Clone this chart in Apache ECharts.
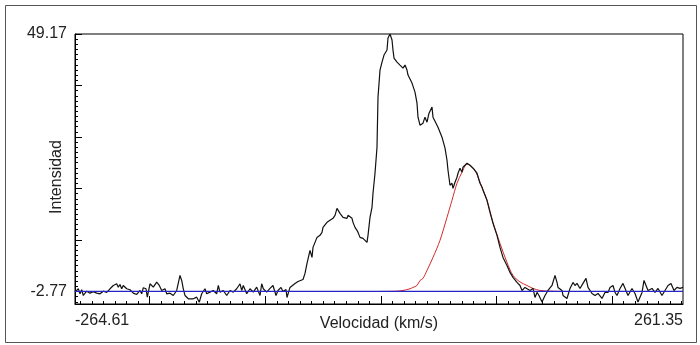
<!DOCTYPE html>
<html>
<head>
<meta charset="utf-8">
<script src="https://cdn.jsdelivr.net/npm/echarts@6/dist/echarts.min.js"></script>
<style>
  html, body { margin: 0; padding: 0; background: #fff; }
  #chart { width: 700px; height: 345px; }
</style>
</head>
<body>
<div id="chart"></div>
<script>
// ejes
var xMin = -264.61, xMax = 261.35;
var yMin = -5.3, yMax = 49.17;
var xTickLabels = [-264.61, 261.35];
var yTickLabels = [-2.77, 49.17];
var xMajorTicks = [-200, -100, 0, 100, 200];
var yMajorTicks = [-2.77, 7.62, 18.01, 28.39, 38.78, 49.17];

// espectro observado [velocidad, intensidad]
var espectro = [
  [-264.61, -2.91], [-261.75, -2.23], [-260.28, -3.24], [-258.81, -2.43], [-257.43, -3.58],
  [-254.49, -2.71], [-251.63, -3.11], [-248.78, -2.83], [-245.84, -3.11], [-242.98, -3.24],
  [-240.13, -2.71], [-237.19, -2.97], [-234.33, -2.23], [-231.48, -1.56], [-228.54, -1.22],
  [-227.15, -1.90], [-225.68, -1.36], [-224.21, -2.23], [-222.83, -1.56], [-219.89, -2.23],
  [-217.03, -2.43], [-214.18, -3.11], [-211.23, -3.38], [-208.38, -2.57], [-206.91, -3.24],
  [-205.53, -2.02], [-203.19, -2.23], [-202.07, -3.92], [-199.73, -1.22], [-196.87, -1.90],
  [-193.93, -0.89], [-191.68, -1.56], [-189.61, -2.57], [-186.75, -2.23], [-185.28, -3.24],
  [-182.43, -3.11], [-179.57, -3.58], [-176.63, -2.57], [-173.78, 0.46], [-172.31, -0.55],
  [-170.92, -2.23], [-169.45, -3.58], [-166.60, -4.25], [-162.27, -4.25], [-159.33, -3.92],
  [-157.08, -4.93], [-155.01, -3.24], [-152.15, -2.23], [-150.68, -3.24], [-147.83, -2.91],
  [-144.97, -2.57], [-142.03, -3.24], [-140.64, -1.56], [-139.17, -2.91], [-136.32, -2.57],
  [-133.38, -3.58], [-130.52, -2.57], [-127.67, -2.91], [-124.73, -2.23], [-121.87, -1.22],
  [-120.40, -2.57], [-119.02, -1.56], [-116.08, -3.24], [-113.22, -2.23], [-110.37, -2.91],
  [-107.43, -1.90], [-104.57, -3.58], [-103.10, -1.22], [-101.72, -2.23], [-98.78, -2.91],
  [-95.92, -2.16], [-93.33, -1.56], [-90.73, -3.58], [-89.00, -2.57], [-86.41, -1.96],
  [-84.68, -2.77], [-82.08, -2.37], [-81.22, -3.98], [-78.62, -1.96], [-76.89, -1.56],
  [-74.29, -1.15], [-71.70, -0.75], [-69.97, -0.55], [-67.37, -0.35], [-65.64, 0.87],
  [-63.91, 2.89], [-61.32, 5.51], [-59.59, 4.10], [-58.72, 6.12], [-55.26, 8.14],
  [-54.40, 7.94], [-52.67, 8.55], [-50.94, 9.15], [-50.07, 10.16], [-46.61, 11.17],
  [-44.02, 11.58], [-41.42, 11.98], [-39.69, 12.59], [-37.96, 14.00], [-35.37, 12.99],
  [-32.77, 12.18], [-29.31, 11.98], [-28.45, 12.59], [-26.72, 12.99], [-24.99, 11.98],
  [-24.12, 11.17], [-22.39, 10.16], [-20.66, 9.56], [-19.79, 9.15], [-18.06, 8.14],
  [-15.47, 7.94], [-13.74, 7.54], [-12.01, 7.13], [-11.14, 8.55], [-9.41, 12.18],
  [-7.68, 14.21], [-6.82, 17.03], [-5.09, 21.08], [-3.36, 26.33], [-2.49, 36.44],
  [-0.76, 41.89], [0.97, 43.51], [2.70, 44.92], [4.43, 44.92], [5.29, 45.93],
  [6.16, 48.36], [7.89, 49.17], [9.62, 47.96], [10.48, 45.93], [11.35, 44.32],
  [13.94, 43.51], [16.54, 42.90], [19.13, 42.30], [20.86, 42.90], [22.59, 41.89],
  [23.46, 40.88], [26.92, 39.27], [29.51, 37.45], [31.24, 35.22], [32.11, 32.39],
  [33.84, 30.78], [36.43, 31.18], [38.16, 32.39], [39.89, 31.38], [41.63, 33.20],
  [44.22, 34.42], [45.09, 32.39], [46.82, 32.19], [49.41, 30.37], [52.87, 28.35],
  [55.47, 26.13], [57.20, 23.70], [58.06, 21.68], [59.79, 18.65], [61.52, 19.06],
  [62.39, 18.05], [64.12, 19.26], [65.85, 20.27], [66.71, 21.08], [68.44, 22.09],
  [70.17, 21.28], [71.04, 22.29], [72.77, 22.69], [74.50, 23.10], [75.36, 23.10],
  [77.09, 22.69], [79.69, 22.09], [83.15, 21.08], [85.74, 19.06], [87.47, 18.25],
  [88.34, 17.64], [91.80, 15.62], [94.39, 13.19], [96.99, 10.97], [100.45, 8.55],
  [103.05, 6.12], [105.64, 4.10], [109.10, 2.48], [111.70, 1.07], [114.29, 0.06],
  [117.75, -0.95], [120.35, -1.56], [122.08, -2.57], [124.67, -1.96], [126.40, -2.16],
  [129.00, -2.57], [131.59, -2.16], [133.32, -3.98], [135.05, -2.97], [136.78, -3.58],
  [139.38, -4.90], [141.97, -3.58], [144.57, -2.57], [148.03, -1.56], [150.62, 0.46],
  [152.35, -0.95], [153.22, -1.96], [156.68, -2.57], [157.54, -3.58], [161.00, -4.19],
  [163.60, -2.16], [166.20, -0.95], [167.93, -1.56], [169.66, -1.15], [172.25, -2.16],
  [174.85, -1.15], [177.44, -0.14], [179.17, -1.96], [182.63, -3.18], [185.23, -3.58],
  [187.82, -3.18], [191.28, -4.19], [193.88, -2.97], [196.47, -2.97], [198.20, -1.96],
  [200.80, -1.56], [202.53, -2.97], [204.26, -3.58], [206.85, -2.16], [209.45, -1.15],
  [211.18, -0.95], [213.77, -3.58], [217.23, -2.16], [219.83, -3.18], [222.42, -4.90],
  [225.89, -2.97], [227.62, -0.55], [229.35, -1.56], [231.08, -2.57], [234.54, -2.16],
  [237.13, -2.97], [239.73, -2.16], [243.19, -3.58], [245.78, -2.57], [248.38, -1.56],
  [250.97, -1.15], [253.57, -2.57], [256.16, -1.96], [258.76, -2.16], [261.35, -1.96]
];

// ajuste (curva roja)
var ajuste = [
  [-0.76, -2.77], [13.94, -2.71], [19.13, -2.57], [25.19, -2.23], [27.78, -1.96],
  [31.24, -1.56], [33.84, -0.55], [36.43, -0.14], [39.89, 1.47], [45.09, 4.10],
  [51.14, 7.54], [57.20, 12.18], [61.52, 15.62], [65.85, 19.06], [70.17, 21.28],
  [74.50, 22.90], [77.09, 22.69], [81.42, 21.68], [85.74, 19.26], [91.80, 15.62],
  [96.99, 11.17], [103.05, 6.93], [109.10, 3.09], [114.29, 0.46], [120.35, -0.85],
  [126.40, -1.56], [131.59, -2.16], [137.65, -2.57], [146.30, -2.71], [160.00, -2.77]
];

// linea de base
var base = [[-264.61, -2.77], [261.35, -2.77]];

// marcas menores
var xMinorTicks = [];
for (var v = -260; v <= 260; v += 10) xMinorTicks.push(v);
var yMinorTicks = [];
var yStep = (yMajorTicks[5] - yMajorTicks[0]) / 50;
for (var k = -2; k <= 50; k++) yMinorTicks.push(+(yMajorTicks[0] + k * yStep).toFixed(3));

var fuente = '"Liberation Sans", Arial, sans-serif';
var texto = { color: '#222', fontSize: 16, fontFamily: fuente };

var chart = echarts.init(document.getElementById('chart'));
chart.setOption({
  animation: false,
  backgroundColor: '#fff',
  graphic: [{
    type: 'rect',
    shape: { x: 5.5, y: 5.5, width: 691, height: 337 },
    style: { fill: 'none', stroke: '#555', lineWidth: 1 },
    silent: true
  }],
  grid: {
    left: 75, right: 17, top: 34, bottom: 41,
    outerBoundsMode: 'none', containLabel: false,
    show: true, borderColor: '#000', borderWidth: 1, backgroundColor: '#fff'
  },
  xAxis: [{
    type: 'value', min: xMin, max: xMax,
    name: 'Velocidad (km/s)', nameLocation: 'middle', nameGap: 12, nameMoveOverlap: false,
    nameTextStyle: texto,
    axisLine: { show: true, onZero: false, lineStyle: { color: '#000', width: 1 } },
    axisTick: { show: true, inside: true, length: 3, customValues: xMinorTicks, lineStyle: { color: '#000' } },
    axisLabel: Object.assign({
      customValues: xTickLabels, margin: 9,
      alignMinLabel: 'left', alignMaxLabel: 'right',
      formatter: function (v) { return v.toFixed(2); }
    }, texto),
    splitLine: { show: false }
  }, {
    type: 'value', min: xMin, max: xMax, position: 'bottom',
    axisLine: { show: false, onZero: false },
    axisTick: { show: true, inside: true, length: 8, customValues: xMajorTicks, lineStyle: { color: '#000' } },
    axisLabel: { show: false },
    splitLine: { show: false }
  }],
  yAxis: [{
    type: 'value', min: yMin, max: yMax,
    name: 'Intensidad', nameLocation: 'middle', nameGap: 10, nameMoveOverlap: false,
    nameTextStyle: Object.assign({ padding: [0, 16, 0, 0] }, texto),
    axisLine: { show: true, onZero: false, lineStyle: { color: '#000', width: 1 } },
    axisTick: { show: true, inside: true, length: 3, customValues: yMinorTicks, lineStyle: { color: '#000' } },
    axisLabel: Object.assign({
      customValues: yTickLabels, margin: 8,
      formatter: function (v) { return v.toFixed(2); }
    }, texto),
    splitLine: { show: false }
  }, {
    type: 'value', min: yMin, max: yMax, position: 'left',
    axisLine: { show: false, onZero: false },
    axisTick: { show: true, inside: true, length: 7, customValues: yMajorTicks, lineStyle: { color: '#000' } },
    axisLabel: { show: false },
    splitLine: { show: false }
  }],
  series: [{
    name: 'Ajuste', type: 'line', data: ajuste, smooth: 0.3,
    showSymbol: false, lineStyle: { color: '#d42a2a', width: 1 }, z: 2
  }, {
    name: 'Espectro', type: 'line', data: espectro,
    showSymbol: false, lineStyle: { color: '#111', width: 1.2 }, z: 3
  }, {
    name: 'Base', type: 'line', data: base,
    showSymbol: false, color: '#2424c8', itemStyle: { color: '#2424c8' },
    lineStyle: { color: '#2424c8', width: 1.2 }, z: 4
  }]
});
</script>
</body>
</html>
